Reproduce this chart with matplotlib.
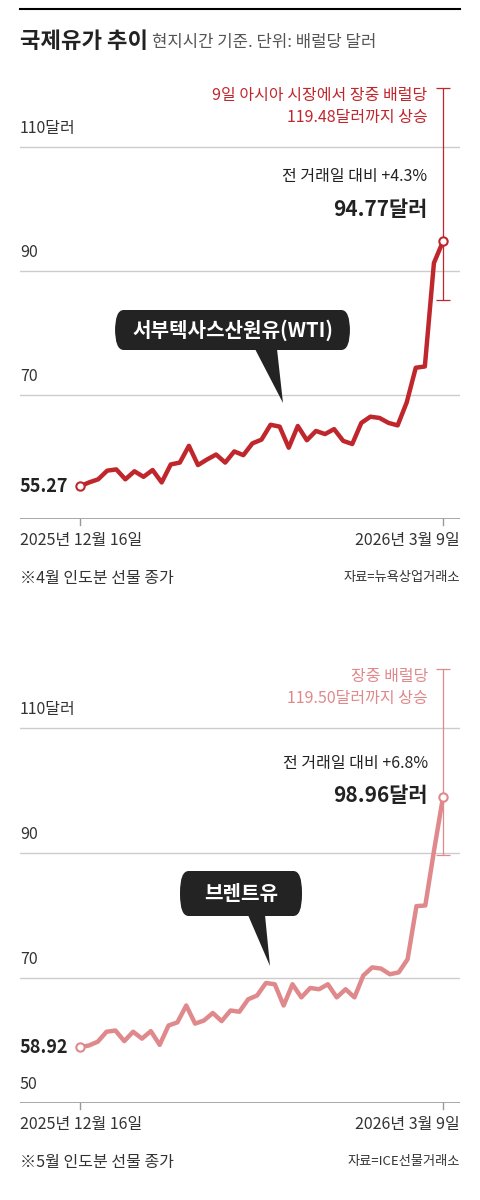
import matplotlib.pyplot as plt
from matplotlib.patches import FancyBboxPatch, Polygon

plt.rcParams['font.family'] = ['Noto Sans CJK KR', 'DejaVu Sans']

# WTI 4월물 종가 (달러/배럴)
wti = [55.27, 55.9, 56.4, 57.8, 58.0, 56.4, 57.7, 56.8, 57.9, 55.9, 58.8, 59.1,
       61.8, 58.7, 59.6, 60.4, 59.1, 60.9, 60.3, 62.2, 62.8, 65.2, 64.9, 61.5,
       65.0, 62.7, 64.2, 63.7, 64.5, 62.6, 62.1, 65.5, 66.5, 66.3, 65.5, 65.1,
       68.8, 74.4, 74.6, 91.3, 94.77]
# 브렌트유 5월물 종가
brent = [58.92, 59.2, 59.8, 61.4, 61.6, 59.9, 61.4, 60.3, 61.5, 59.3, 62.4, 62.9,
         65.6, 62.7, 63.2, 64.4, 63.1, 64.8, 64.6, 66.6, 67.2, 69.2, 69.0, 65.6,
         69.0, 66.9, 68.4, 68.2, 69.0, 66.9, 68.2, 66.9, 70.4, 71.7, 71.5, 70.6,
         70.9, 73.0, 81.5, 81.6, 90.5, 98.96]
wti_range = (85.4, 119.48)
brent_range = (89.7, 119.50)
yticks = [110, 90, 70, 50]

W, H = 480, 1200
fig = plt.figure(figsize=(W / 100, H / 100), dpi=100)


def fx(x):
    return x / W


def fy(y):
    return 1 - y / H


def ftext(x, y, s, **kw):
    fig.text(fx(x), fy(y), s, transform=fig.transFigure, **kw)


def panel(vals, rng, color, y0, show50, head, pct, last, bubble, note, src):
    # y0 = pixel of value 50, 75 units tall
    pxu = 6.2 if not show50 else 6.25
    top = y0 - 75 * pxu
    ax = fig.add_axes([fx(20), fy(y0), fx(440), (y0 - top) / H])
    n = len(vals) - 1
    step = (443 - 80) / n
    ax.set_xlim(-60 / step, n + 17 / step)
    ax.set_ylim(50, 125)
    for v in [110, 90, 70]:
        ax.axhline(v, color='#cccccc', lw=1, zorder=0)
    ax.axhline(50, color='#999999', lw=1.2, zorder=0)
    for s in ax.spines.values():
        s.set_visible(False)
    ax.set_xticks([])
    ax.set_yticks([])
    ax.plot(range(len(vals)), vals, color=color, lw=3.2, zorder=3,
            solid_joinstyle='round')
    ax.errorbar([n], [vals[-1]], yerr=[[vals[-1] - rng[0]], [rng[1] - vals[-1]]],
                color=color, lw=0.9, capsize=5, capthick=0.9, zorder=2)
    ax.plot([0, n], [vals[0], vals[-1]], 'o', ms=6, mfc='white', mec=color,
            mew=1.5, zorder=4)
    # tick marks under axis
    for i in [0, n]:
        ax.plot([i, i], [50, 50 - 6 / pxu], color='#999999', lw=1, clip_on=False)
    # y labels
    labs = ['110달러', '90', '70', '50']
    for lab, v in zip(labs, yticks):
        if v == 50 and not show50:
            continue
        ax.text(0.0, v + 1.6, lab, transform=ax.get_yaxis_transform(), fontsize=11.5,
                color='#333333', va='bottom', ha='left')
    ax.text(0.0, vals[0], f'{vals[0]:.2f}', transform=ax.get_yaxis_transform(),
            fontsize=13, fontweight='bold', color='#222222', va='center', ha='left')
    # annotations
    ax.text(n - 1.7, rng[1] - 3, head, color=color, fontsize=11.5, ha='right',
            va='center', linespacing=1.4)
    ax.text(n - 1.7, last[0], pct, color='#222222', fontsize=11.5, ha='right',
            va='center')
    ax.text(n - 1.7, last[1], f'{vals[-1]:.2f}달러', color='#222222', fontsize=15,
            fontweight='bold', ha='right', va='center')
    # bubble
    (bx0, by0, bx1, by1), tail, label = bubble
    fig.patches.append(FancyBboxPatch((fx(bx0), fy(by1)), fx(bx1 - bx0), (by1 - by0) / H,
                                      boxstyle='round,pad=0,rounding_size=0.018',
                                      transform=fig.transFigure, fc='#232323', ec='none'))
    fig.patches.append(Polygon([(fx(tail[0]), fy(by1 - 1)), (fx(tail[1]), fy(by1 - 1)),
                                (fx(tail[2]), fy(tail[3]))],
                               transform=fig.transFigure, fc='#232323', ec='none'))
    ftext((bx0 + bx1) / 2, (by0 + by1) / 2, label, color='white', fontsize=14.5,
          fontweight='bold', ha='center', va='center')
    # dates and notes
    ftext(20, y0 + 21, '2025년 12월 16일', fontsize=11.5, color='#333333', va='center')
    ftext(460, y0 + 21, '2026년 3월 9일', fontsize=11.5, color='#333333', va='center',
          ha='right')
    ftext(20, y0 + 59, note, fontsize=11.5, color='#333333', va='center')
    ftext(460, y0 + 59, src, fontsize=9.5, color='#333333', va='center', ha='right')


# title
fig.add_artist(plt.Line2D([fx(20), fx(460)], [fy(9), fy(9)], color='black', lw=1.5,
                          transform=fig.transFigure))
ftext(20, 42, '국제유가 추이', fontsize=16, fontweight='bold', color='#222222', va='center')
ftext(152, 43, '현지시간 기준. 단위: 배럴당 달러', fontsize=12, color='#555555', va='center')

panel(wti, wti_range, '#c0272d', 519, False,
      '9일 아시아 시장에서 장중 배럴당\n119.48달러까지 상승',
      '전 거래일 대비 +4.3%', (105.2, 100.0),
      ((115, 310, 350, 350), (255, 277, 283, 403), '서부텍사스산원유(WTI)'),
      '※4월 인도분 선물 종가', '자료=뉴욕상업거래소')

panel(brent, brent_range, '#e0898c', 1103, True,
      '장중 배럴당\n119.50달러까지 상승',
      '전 거래일 대비 +6.8%', (104.3, 99.2),
      ((180, 871, 302, 916), (248, 265, 270, 966), '브렌트유'),
      '※5월 인도분 선물 종가', '자료=ICE선물거래소')

fig.savefig('out.png', dpi=100)
